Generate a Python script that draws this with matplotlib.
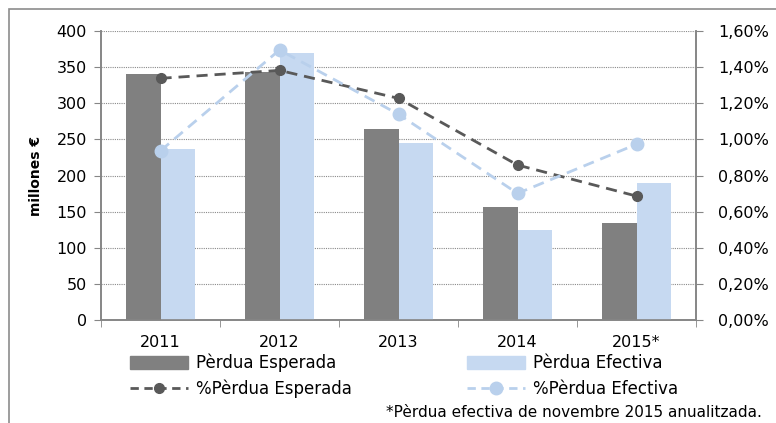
import matplotlib
matplotlib.use('Agg')
import matplotlib.pyplot as plt
import numpy as np
from matplotlib.lines import Line2D
from matplotlib.patches import Patch, Rectangle

plt.rcParams['font.family'] = ['DejaVu Sans']

years = ['2011', '2012', '2013', '2014', '2015*']
perdua_esperada = [341, 343, 264, 157, 134]
perdua_efectiva = [237, 370, 245, 125, 189]
pct_esperada = [1.338, 1.382, 1.227, 0.858, 0.686]
pct_efectiva = [0.937, 1.495, 1.139, 0.701, 0.973]

dark = '#808080'
light = '#c6d9f1'
dark_line = '#595959'
light_line = '#b9d0ec'
axis_gray = '#868686'

fig = plt.figure(figsize=(7.76, 4.23), dpi=100)
ax = fig.add_axes([101 / 776, 1 - 320 / 423, 595 / 776, 289 / 423])
ax2 = ax.twinx()

# outer frame (cut off at right/bottom like the reference)
fig.patches.append(Rectangle((9 / 776, -0.05), 1.1, 1 - 9 / 423 + 0.05,
                             transform=fig.transFigure, fill=False,
                             edgecolor='#8c8c8c', linewidth=1.2))

x = np.arange(len(years))
w = 0.286
ax.bar(x - w / 2, perdua_esperada, width=w, color=dark, zorder=3)
ax.bar(x + w / 2, perdua_efectiva, width=w, color=light, zorder=3)

ax.set_xlim(-0.5, len(years) - 0.5)
ax.set_ylim(0, 400)
ax.set_yticks(range(0, 401, 50))
ax.set_xticks(x)
ax.set_xticklabels(years)
ax.set_xticks(np.arange(-0.5, len(years)), minor=True)
ax.tick_params(axis='x', which='major', length=0, pad=11, labelsize=11.5)
ax.tick_params(axis='x', which='minor', length=5, color=axis_gray, direction='out')
ax.tick_params(axis='y', length=5, color=axis_gray, labelsize=11.5, pad=5)
ax.grid(axis='y', color='#8a8a8a', linestyle=(0, (1, 1)), linewidth=0.8, zorder=0)
ax.set_axisbelow(True)
ax.set_ylabel('millones €', fontsize=10, fontweight='bold', labelpad=10)

ax2.plot(x, pct_esperada, color=dark_line, linestyle=(0, (4, 2.5)), linewidth=2,
         marker='o', markersize=7, zorder=4)
ax2.plot(x, pct_efectiva, color=light_line, linestyle=(0, (4, 2.5)), linewidth=2,
         marker='o', markersize=9, zorder=4)
ax2.set_ylim(0, 1.6)
ax2.set_yticks(np.arange(0, 1.61, 0.2))
ax2.set_yticklabels([f'{v:.2f}%'.replace('.', ',') for v in np.arange(0, 1.61, 0.2)])
ax2.tick_params(axis='y', length=5, color=axis_gray, labelsize=11.5, pad=11)

for a in (ax, ax2):
    a.spines['top'].set_visible(False)
    for s in ('left', 'right', 'bottom'):
        a.spines[s].set_color(axis_gray)
        a.spines[s].set_linewidth(1.2)

leg_kw = dict(loc='center left', frameon=False, fontsize=12, handlelength=3.5,
              handleheight=0.8, labelspacing=0.45, handletextpad=0.45,
              borderpad=0, borderaxespad=0)
fig.legend([Patch(color=dark),
            Line2D([], [], color=dark_line, linestyle=(0, (3, 2)), linewidth=2,
                   marker='o', markersize=7)],
           ['Pèrdua Esperada', '%Pèrdua Esperada'],
           bbox_to_anchor=(130 / 776, 1 - 376 / 423), **leg_kw)
fig.legend([Patch(color=light),
            Line2D([], [], color=light_line, linestyle=(0, (3, 2)), linewidth=2,
                   marker='o', markersize=9)],
           ['Pèrdua Efectiva', '%Pèrdua Efectiva'],
           bbox_to_anchor=(467 / 776, 1 - 376 / 423), **leg_kw)

fig.text(762 / 776, 1 - 412 / 423, '*Pèrdua efectiva de novembre 2015 anualitzada.',
         ha='right', va='center', fontsize=11)

fig.savefig('out.png', dpi=100, facecolor='white')
